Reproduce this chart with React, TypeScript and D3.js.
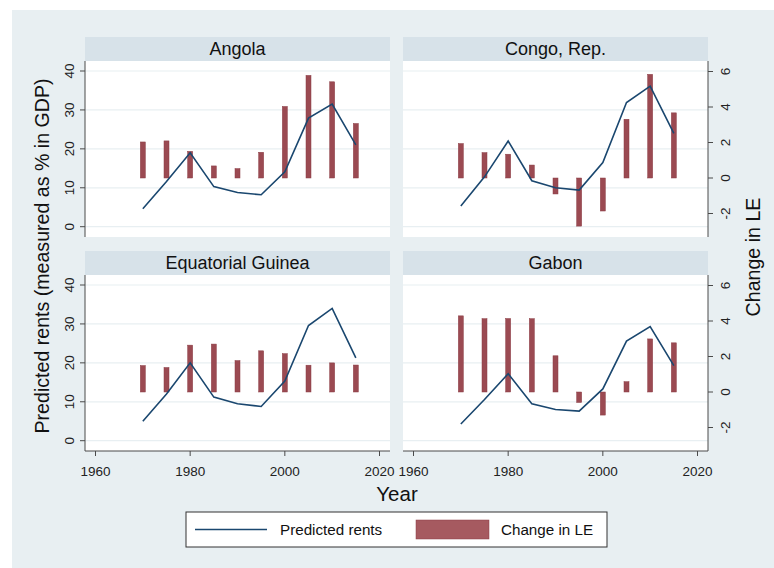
import * as d3 from "d3";

// years shared by all panels
const years = [1970, 1975, 1980, 1985, 1990, 1995, 2000, 2005, 2010, 2015];
const countries = ["Angola", "Congo, Rep.", "Equatorial Guinea", "Gabon"];

// predicted rents (% of GDP), left axis
const rentsAngola = [4.6, 11.6, 19.0, 10.3, 8.8, 8.2, 14.1, 27.9, 31.5, 21.0];
const rentsCongo = [5.3, 12.8, 22.0, 11.8, 10.0, 9.4, 16.5, 31.9, 36.1, 24.0];
const rentsEqGuinea = [5.0, 12.0, 20.0, 11.2, 9.5, 8.8, 15.3, 29.6, 34.0, 21.3];
const rentsGabon = [4.3, 10.6, 17.2, 9.5, 8.0, 7.6, 13.3, 25.6, 29.3, 19.3];

// change in life expectancy, right axis
const leAngola = [2.03, 2.09, 1.5, 0.68, 0.53, 1.45, 4.03, 5.78, 5.42, 3.07];
const leCongo = [1.94, 1.43, 1.34, 0.73, -0.9, -2.71, -1.86, 3.31, 5.84, 3.67];
const leEqGuinea = [1.49, 1.38, 2.64, 2.7, 1.77, 2.32, 2.16, 1.51, 1.64, 1.52];
const leGabon = [4.29, 4.13, 4.14, 4.13, 2.04, -0.59, -1.3, 0.58, 2.99, 2.77];

const xTicks = [1960, 1980, 2000, 2020];
const leftTicks = [0, 10, 20, 30, 40];
const rightTicks = [-2, 0, 2, 4, 6];

const rents = [rentsAngola, rentsCongo, rentsEqGuinea, rentsGabon];
const changes = [leAngola, leCongo, leEqGuinea, leGabon];

const BG = "#e8eff2";
const STRIP = "#d7e2e9";
const LINE = "#1a476f";
const BAR = "#9b4a52";
const AXIS = "#4a4a4a";
const FONT = "'Liberation Sans', Arial, sans-serif";

const cols = [
  { x0: 85, x1: 390 },
  { x0: 403, x1: 708 },
];
const rows = [
  { h0: 37, top: 61, bottom: 237 },
  { h0: 251, top: 275, bottom: 451 },
];

function Panel({ i }: { i: number }) {
  const c = cols[i % 2];
  const r = rows[Math.floor(i / 2)];
  const isLeft = i % 2 === 0;
  const isBottom = i >= 2;

  const x = d3.scaleLinear().domain([1960, 2020]).range([c.x0 + 10.5, c.x0 + 294.5]);
  const yL = d3.scaleLinear().domain([0, 40]).range([r.bottom - 10.3, r.top + 10]);
  const yR = d3.scaleLinear().domain([-2, 6]).range([r.bottom - 23.5, r.top + 10.5]);

  const line = d3
    .line<number>()
    .x((_, k) => x(years[k]))
    .y((d) => yL(d));

  const data = rents[i];
  const le = changes[i];

  return (
    <g>
      <rect x={c.x0} y={r.h0} width={c.x1 - c.x0} height={r.top - r.h0} fill={STRIP} />
      <text
        x={(c.x0 + c.x1) / 2}
        y={(r.h0 + r.top) / 2}
        dy="0.36em"
        textAnchor="middle"
        fontSize={18}
        fill="#111"
      >
        {countries[i]}
      </text>
      <rect x={c.x0} y={r.top} width={c.x1 - c.x0} height={r.bottom - r.top} fill="#fff" />
      {leftTicks.map((t) => (
        <line key={t} x1={c.x0} x2={c.x1} y1={yL(t)} y2={yL(t)} stroke={BG} strokeWidth={1.2} />
      ))}

      {le.map((v, k) => (
        <rect
          key={k}
          x={x(years[k]) - 2.5}
          width={5}
          y={Math.min(yR(v), yR(0))}
          height={Math.abs(yR(v) - yR(0))}
          fill={BAR}
          stroke="#8a3c44"
          strokeWidth={0.5}
        />
      ))}
      <path d={line(data) ?? ""} fill="none" stroke={LINE} strokeWidth={1.6} />

      {isLeft && (
        <g>
          <line x1={c.x0} x2={c.x0} y1={r.top} y2={r.bottom} stroke={AXIS} />
          {leftTicks.map((t) => (
            <g key={t}>
              <line x1={c.x0 - 5} x2={c.x0} y1={yL(t)} y2={yL(t)} stroke={AXIS} />
              <text
                transform={`translate(${c.x0 - 16},${yL(t)}) rotate(-90)`}
                textAnchor="middle"
                dy="0.36em"
                fontSize={13.5}
                fill="#222"
              >
                {t}
              </text>
            </g>
          ))}
        </g>
      )}
      {!isLeft && (
        <g>
          <line x1={c.x1} x2={c.x1} y1={r.top} y2={r.bottom} stroke={AXIS} />
          {rightTicks.map((t) => (
            <g key={t}>
              <line x1={c.x1} x2={c.x1 + 5} y1={yR(t)} y2={yR(t)} stroke={AXIS} />
              <text
                transform={`translate(${c.x1 + 17},${yR(t)}) rotate(-90)`}
                textAnchor="middle"
                dy="0.36em"
                fontSize={13.5}
                fill="#222"
              >
                {t}
              </text>
            </g>
          ))}
        </g>
      )}
      {isBottom && (
        <g>
          <line x1={c.x0} x2={c.x1} y1={r.bottom} y2={r.bottom} stroke={AXIS} />
          {xTicks.map((t) => (
            <g key={t}>
              <line x1={x(t)} x2={x(t)} y1={r.bottom} y2={r.bottom + 5} stroke={AXIS} />
              <text x={x(t)} y={r.bottom + 25} textAnchor="middle" fontSize={13.5} fill="#222">
                {t}
              </text>
            </g>
          ))}
        </g>
      )}
    </g>
  );
}

export default function App() {
  return (
    <svg width={774} height={568} style={{ position: "absolute", left: 0, top: 0 }} fontFamily={FONT}>
      <rect width={774} height={568} fill="#fff" />
      <rect x={12} y={10} width={762} height={558} fill={BG} />
      {[0, 1, 2, 3].map((i) => (
        <Panel key={i} i={i} />
      ))}

      <text transform="translate(42,256) rotate(-90)" textAnchor="middle" dy="0.36em" fontSize={19.6} fill="#111">
        Predicted rents (measured as % in GDP)
      </text>
      <text transform="translate(753,257) rotate(-90)" textAnchor="middle" dy="0.36em" fontSize={19.6} fill="#111">
        Change in LE
      </text>
      <text x={397} y={501} textAnchor="middle" fontSize={20.5} fill="#111">
        Year
      </text>

      <rect x={186} y={512} width={421} height={35} fill="#fff" stroke="#333" strokeWidth={1} />
      <line x1={195} x2={267} y1={529.5} y2={529.5} stroke={LINE} strokeWidth={1.6} />
      <text x={280} y={529.5} dy="0.36em" fontSize={15.2} fill="#111">
        Predicted rents
      </text>
      <rect x={416} y={520} width={73} height={19} fill="#a65a60" stroke="#8a3c44" strokeWidth={0.5} />
      <text x={501} y={529.5} dy="0.36em" fontSize={15.2} fill="#111">
        Change in LE
      </text>
    </svg>
  );
}
